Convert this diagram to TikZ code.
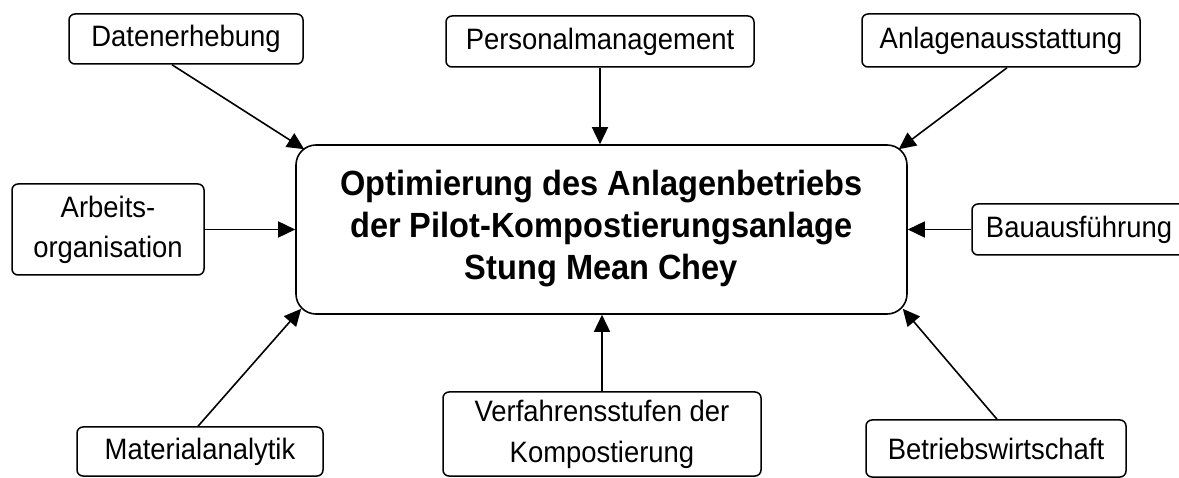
\documentclass[tikz,border=0pt]{standalone}
\usepackage{fontspec}
\setmainfont{Liberation Sans}[FakeStretch=0.93]
\usetikzlibrary{arrows.meta,calc}
\begin{document}
\begin{tikzpicture}[x=1pt,y=-1pt,
  lbl/.style={draw,line width=1.5pt,rounded corners=6pt,inner sep=0pt,align=center,
    font=\fontsize{29.5}{40}\selectfont},
  mainbox/.style={draw,line width=1.6pt,rounded corners=20pt,inner sep=0pt,align=center,
    font=\fontsize{35}{42}\selectfont\bfseries},
  arr/.style={line width=1.6pt,-{Triangle[length=17pt,width=16pt]}}]
\clip (0,0) rectangle (1179,478);
\fill[white] (0,0) rectangle (1179,478);
\node[mainbox,minimum width=611pt,minimum height=169pt] (main) at (601.5,229.5)
  {\raisebox{4pt}{\begin{tabular}{@{}c@{}}Optimierung des Anlagenbetriebs\\der Pilot-Kompostierungsanlage\\Stung Mean Chey\end{tabular}}};
\node[lbl,minimum width=234pt,minimum height=50pt] (daten) at (186,39) {Datenerhebung};
\node[lbl,minimum width=308pt,minimum height=51pt] (personal) at (600,41.5) {Personalmanagement};
\node[lbl,minimum width=278pt,minimum height=53pt] (anlagen) at (1001,40.5) {Anlagenausstattung};
\node[lbl,minimum width=192pt,minimum height=91pt] (arbeits) at (108,229.5) {Arbeits-\\organisation};
\node[lbl,minimum width=220pt,minimum height=51pt] (bau) at (1082,229.5) {\hspace*{-6pt}Bauausführung};
\node[lbl,minimum width=246pt,minimum height=49pt] (material) at (200,451.5) {Materialanalytik};
\node[lbl,minimum width=318pt,minimum height=84pt] (verfahren) at (602,434) {\raisebox{-3pt}{\begin{tabular}{@{}c@{}}Verfahrensstufen der\\Kompostierung\end{tabular}}};
\node[lbl,minimum width=260pt,minimum height=57pt] (betrieb) at (996,448.5) {Betriebswirtschaft};
\draw[arr] ($(daten.south)+(-14,0)$) -- ($(main.north west)+(9,5)$);
\draw[arr] (personal.south) -- (personal.south |- main.north);
\draw[arr] ($(anlagen.south)+(6,0)$) -- ($(main.north east)+(-9,5)$);
\draw[arr] (arbeits.east) -- (main.west);
\draw[arr] (bau.west) -- (main.east);
\draw[arr] ($(material.north)+(-2,0)$) -- ($(main.south west)+(6,-6)$);
\draw[arr] (verfahren.north) -- (verfahren.north |- main.south);
\draw[arr] ($(betrieb.north)+(1,0)$) -- ($(main.south east)+(-5,-6)$);
\end{tikzpicture}
\end{document}
